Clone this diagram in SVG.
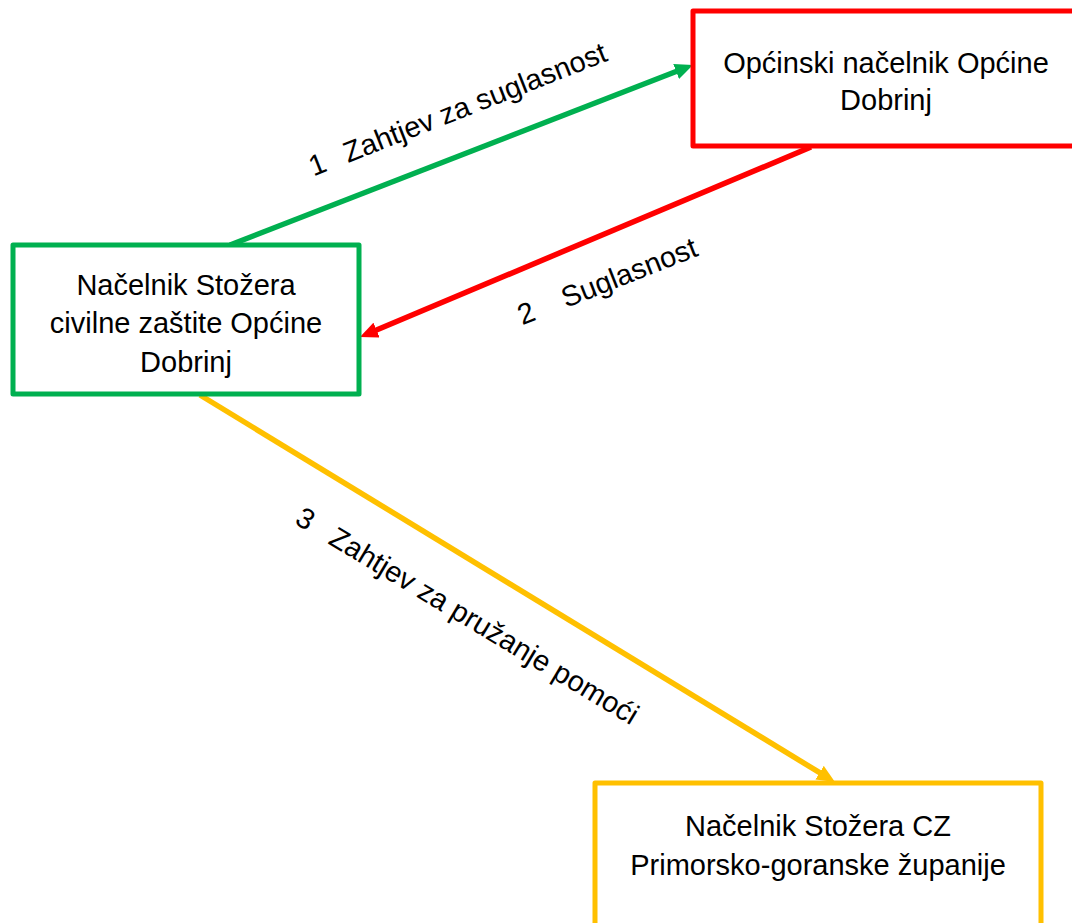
<svg xmlns="http://www.w3.org/2000/svg" width="1072" height="923" viewBox="0 0 1072 923">
<style>
  .box { fill: #FFFFFF; stroke-width: 5; stroke-linejoin: round; }
  .t { font-family: "Liberation Sans", Arial, sans-serif; font-size: 29px; fill: #000000; }
  .c { text-anchor: middle; }
  .ln { fill: none; stroke-width: 5.5; }
</style>
<defs>
  <marker id="ag" markerUnits="userSpaceOnUse" markerWidth="18" markerHeight="16" refX="2" refY="8" orient="auto"><path d="M0,0 L18,8 L0,16 z" fill="#00B050"/></marker>
  <marker id="ar" markerUnits="userSpaceOnUse" markerWidth="18" markerHeight="16" refX="2" refY="8" orient="auto"><path d="M0,0 L18,8 L0,16 z" fill="#FF0000"/></marker>
  <marker id="ay" markerUnits="userSpaceOnUse" markerWidth="18" markerHeight="16" refX="2" refY="8" orient="auto"><path d="M0,0 L18,8 L0,16 z" fill="#FFC000"/></marker>
</defs>
<rect width="1072" height="923" fill="#FFFFFF"/>
<g id="connectors">
  <line class="ln" x1="230" y1="245" x2="678" y2="70.8" stroke="#00B050" marker-end="url(#ag)"/>
  <line class="ln" x1="811" y1="147" x2="374.7" y2="330.8" stroke="#FF0000" marker-end="url(#ar)"/>
  <line class="ln" x1="200" y1="395" x2="821.3" y2="773.7" stroke="#FFC000" marker-end="url(#ay)"/>
  <text class="t" transform="translate(348,163) rotate(-21.5)"><tspan x="-37">1</tspan><tspan x="0">Zahtjev za suglasnost</tspan></text>
  <text class="t" transform="translate(566,308) rotate(-21.5)"><tspan x="-47">2</tspan><tspan x="0">Suglasnost</tspan></text>
  <text class="t" transform="translate(327,543) rotate(31)"><tspan x="-39">3</tspan><tspan x="0">Zahtjev za pružanje pomoći</tspan></text>
</g>
<g id="node-opcinski-nacelnik">
  <rect class="box" x="693" y="11" width="384" height="135" stroke="#FF0000"/>
  <text class="t c" x="886" y="72.5">Općinski načelnik Općine</text>
  <text class="t c" x="886" y="110">Dobrinj</text>
</g>
<g id="node-nacelnik-stozera">
  <rect class="box" x="13" y="245" width="346" height="149" stroke="#00B050"/>
  <text class="t c" x="186" y="295">Načelnik Stožera</text>
  <text class="t c" x="186" y="333">civilne zaštite Općine</text>
  <text class="t c" x="186" y="371.5">Dobrinj</text>
</g>
<g id="node-nacelnik-cz-pgz">
  <rect class="box" x="595" y="783" width="446" height="143" stroke="#FFC000"/>
  <text class="t c" x="818" y="836">Načelnik Stožera CZ</text>
  <text class="t c" x="818" y="875">Primorsko-goranske županije</text>
</g>
</svg>
